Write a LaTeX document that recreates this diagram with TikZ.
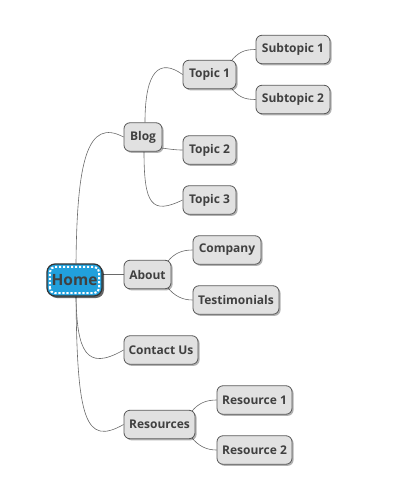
\documentclass[tikz,border=0pt]{standalone}
\usepackage{fontspec}
\setmainfont{Open Sans}
\usetikzlibrary{shadows,calc,backgrounds}
\definecolor{nodefill}{HTML}{E1E1E1}
\definecolor{nodeborder}{HTML}{585858}
\definecolor{textcol}{HTML}{404040}
\definecolor{linkcol}{HTML}{6A6A6A}
\definecolor{homefill}{HTML}{21A0DC}
\definecolor{homeborder}{HTML}{333333}
\begin{document}
\begin{tikzpicture}[x=1pt,y=-1pt,
  topic/.style={draw=nodeborder, fill=nodefill, rounded corners=6pt, line width=0.8pt,
    minimum height=28.5pt, inner xsep=2pt, text=textcol,
    font=\fontsize{12}{14}\selectfont\bfseries,
    drop shadow={shadow xshift=1.6pt, shadow yshift=-1.6pt, fill=black, opacity=0.3}},
  link/.style={draw=linkcol, line width=0.6pt}]
\useasboundingbox (0,0) rectangle (417,503);

\node[draw=homeborder, fill=homefill, rounded corners=8pt, line width=1.2pt,
  minimum width=55pt, minimum height=32pt, inner xsep=1pt, text=textcol,
  font=\fontsize{15.5}{17}\selectfont\bfseries,
  drop shadow={shadow xshift=2pt, shadow yshift=-2pt, fill=black, opacity=0.6}] (Home) at (74.5,280) {Home};
\draw[white, line width=2pt, dash pattern=on 2.2pt off 1.8pt, rounded corners=5pt]
  ($(Home.south west)+(3.5,-3.5)$) rectangle ($(Home.north east)+(-3.5,3.5)$);

\node[topic, minimum width=38pt] (Blog) at (143,137) {Blog};
\node[topic, minimum width=53pt] (T1) at (209.5,74.5) {Topic 1};
\node[topic, minimum width=74pt] (S1) at (293,49.5) {Subtopic 1};
\node[topic, minimum width=74pt] (S2) at (293,99.5) {Subtopic 2};
\node[topic, minimum width=53pt] (T2) at (209.5,150) {Topic 2};
\node[topic, minimum width=53pt] (T3) at (209.5,200) {Topic 3};
\node[topic, minimum width=47pt] (About) at (147.5,274.5) {About};
\node[topic, minimum width=68pt] (Company) at (227,250) {Company};
\node[topic, minimum width=86pt] (Testi) at (236,300) {Testimonials};
\node[topic, minimum width=74pt] (Contact) at (161,350) {Contact Us};
\node[topic, minimum width=71pt] (Res) at (159.5,424.5) {Resources};
\node[topic, minimum width=75pt] (R1) at (254.5,400) {Resource 1};
\node[topic, minimum width=75pt] (R2) at (254.5,450) {Resource 2};

\begin{scope}[on background layer]
\draw[link] ([xshift=1.5pt]Home.north) .. controls +(1,-104) and +(-36,-19) .. (Blog.west);
\draw[link] ([xshift=1.5pt]Home.south) .. controls +(1,54) and +(-38,22) .. (Contact.west);
\draw[link] ([xshift=1.5pt]Home.south) .. controls +(1,124) and +(-38,21.5) .. (Res.west);
\draw[link] (Home.east |- About.west) -- (About.west);

\draw[link] ([xshift=2pt]Blog.north) .. controls +(0,-52) and +(-23,-16.5) .. (T1.west);
\draw[link] ($(Blog.east)+(-1,11)$) .. controls +(8,1) and +(-8,0) .. (T2.west);
\draw[link] ([xshift=1pt]Blog.south) .. controls +(0,53) and +(-31,15) .. (T3.west);

\draw[link] ($(T1.north east)+(-6,2)$) .. controls +(8,-10) and +(-11,0) .. (S1.west);
\draw[link] ($(T1.south east)+(-6,-2)$) .. controls +(8,10) and +(-11,0) .. (S2.west);

\draw[link] ($(About.north east)+(-4,2)$) .. controls +(7,-9) and +(-10,0) .. (Company.west);
\draw[link] ($(About.south east)+(-4,-2)$) .. controls +(7,9) and +(-10,0) .. (Testi.west);

\draw[link] ($(Res.north east)+(-4,2)$) .. controls +(7,-9) and +(-10,0) .. (R1.west);
\draw[link] ($(Res.south east)+(-4,-2)$) .. controls +(7,9) and +(-10,0) .. (R2.west);
\end{scope}
\end{tikzpicture}
\end{document}
